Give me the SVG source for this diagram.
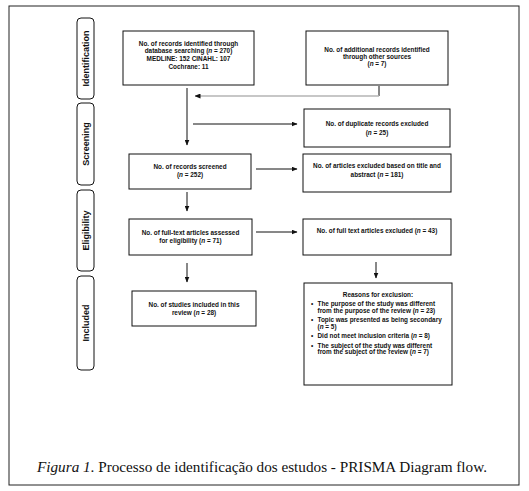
<svg xmlns="http://www.w3.org/2000/svg" width="529" height="491" viewBox="0 0 529 491">
<style>
.box{fill:#fff;stroke:#111;stroke-width:1}
.side{fill:#fff;stroke:#111;stroke-width:1}
.t{font-family:"Liberation Sans",Arial,sans-serif;font-size:6.4px;font-weight:bold;fill:#111;text-anchor:middle}
.tl{font-family:"Liberation Sans",Arial,sans-serif;font-size:6.4px;font-weight:bold;fill:#111}
.s{font-family:"Liberation Sans",Arial,sans-serif;font-size:9px;font-weight:bold;fill:#111;text-anchor:middle}
.c{stroke:#111;stroke-width:1;fill:none}
.g{stroke:#b4b4b4;stroke-width:1.5;fill:none}
.cap{font-family:"Liberation Serif","Times New Roman",serif;font-size:14.5px;fill:#111}
</style>
<defs>
<marker id="ah" markerWidth="6" markerHeight="5" refX="5.5" refY="2.5" orient="auto" markerUnits="userSpaceOnUse">
<path d="M0,0 L6,2.5 L0,5 Z" fill="#111"/>
</marker>
</defs>
<rect x="0" y="0" width="529" height="491" fill="#fff"/>
<rect x="9" y="6" width="510" height="479" fill="none" stroke="#222" stroke-width="1"/>

<g id="side-identification"><rect class="side" x="77" y="18" width="17" height="81" rx="4"/><text class="s" transform="translate(88.8,58.5) rotate(-90)">Identification</text></g>
<g id="side-screening"><rect class="side" x="77" y="103" width="17" height="82" rx="4"/><text class="s" transform="translate(88.8,144) rotate(-90)">Screening</text></g>
<g id="side-eligibility"><rect class="side" x="77" y="190" width="17" height="81" rx="4"/><text class="s" transform="translate(88.8,230.5) rotate(-90)">Eligibility</text></g>
<g id="side-included"><rect class="side" x="77" y="276" width="17" height="94" rx="4"/><text class="s" transform="translate(88.8,323) rotate(-90)">Included</text></g>

<g id="connectors">
<line class="c" x1="187" y1="88" x2="187" y2="145" marker-end="url(#ah)"/>
<line class="c" x1="379" y1="86" x2="379" y2="96"/>
<line class="g" x1="379" y1="96" x2="195" y2="96" marker-end="url(#ah)"/>
<line class="c" x1="193" y1="124" x2="297" y2="124" marker-end="url(#ah)"/>
<line class="c" x1="256" y1="169" x2="297" y2="169" marker-end="url(#ah)"/>
<line class="c" x1="187" y1="192" x2="187" y2="211" marker-end="url(#ah)"/>
<line class="c" x1="256" y1="232" x2="297" y2="232" marker-end="url(#ah)"/>
<line class="c" x1="187" y1="263" x2="187" y2="282" marker-end="url(#ah)"/>
<line class="c" x1="376" y1="262" x2="376" y2="278" marker-end="url(#ah)"/>
</g>

<g id="n-database">
<rect class="box" x="123" y="31" width="131" height="54"/>
<text class="t" x="188.5" y="45.5">No. of records identified through</text>
<text class="t" x="188.5" y="53.2">database searching (<tspan font-style="italic">n</tspan> = 270)</text>
<text class="t" x="188.5" y="61">MEDLINE: 152 CINAHL: 107</text>
<text class="t" x="188.5" y="68.8">Cochrane: 11</text>
</g>
<g id="n-additional">
<rect class="box" x="306" y="31" width="142" height="54"/>
<text class="t" x="377" y="52">No. of additional records identified</text>
<text class="t" x="377" y="59.2">through other sources</text>
<text class="t" x="377" y="66.4">(<tspan font-style="italic">n</tspan> = 7)</text>
</g>
<g id="n-duplicates">
<rect class="box" x="304" y="109" width="146" height="38"/>
<text class="t" x="377" y="126">No. of duplicate records excluded</text>
<text class="t" x="377" y="134.5">(<tspan font-style="italic">n</tspan> = 25)</text>
</g>
<g id="n-screened">
<rect class="box" x="129" y="154" width="122" height="35"/>
<text class="t" x="190" y="169">No. of records screened</text>
<text class="t" x="190" y="177.2">(<tspan font-style="italic">n</tspan> = 252)</text>
</g>
<g id="n-title-abstract">
<rect class="box" x="303" y="154" width="148" height="38"/>
<text class="t" x="377" y="168">No. of articles excluded based on title and</text>
<text class="t" x="377" y="176.5">abstract (<tspan font-style="italic">n</tspan> = 181)</text>
</g>
<g id="n-fulltext">
<rect class="box" x="129" y="219" width="123" height="36"/>
<text class="t" x="190.5" y="235">No. of full-text articles assessed</text>
<text class="t" x="190.5" y="243.2">for eligibility (<tspan font-style="italic">n</tspan> = 71)</text>
</g>
<g id="n-fulltext-excluded">
<rect class="box" x="303" y="219" width="148" height="36"/>
<text class="t" x="377" y="233">No. of full text articles excluded (<tspan font-style="italic">n</tspan> = 43)</text>
</g>
<g id="n-included">
<rect class="box" x="132" y="291" width="124" height="35"/>
<text class="t" x="194" y="306.5">No. of studies included in this</text>
<text class="t" x="194" y="314.7">review (<tspan font-style="italic">n</tspan> = 28)</text>
</g>
<g id="n-reasons">
<rect class="box" x="304" y="283" width="148" height="102"/>
<text class="t" x="378" y="297">Reasons for exclusion:</text>
<text class="tl" x="311" y="306">•</text>
<text class="tl" x="317.5" y="306">The purpose of the study was different</text>
<text class="tl" x="317.5" y="312.7">from the purpose of the review (<tspan font-style="italic">n</tspan> = 23)</text>
<text class="tl" x="311" y="322">•</text>
<text class="tl" x="317.5" y="322">Topic was presented as being secondary</text>
<text class="tl" x="317.5" y="328.7">(<tspan font-style="italic">n</tspan> = 5)</text>
<text class="tl" x="311" y="338">•</text>
<text class="tl" x="317.5" y="338">Did not meet inclusion criteria (<tspan font-style="italic">n</tspan> = 8)</text>
<text class="tl" x="311" y="347.5">•</text>
<text class="tl" x="317.5" y="347.5">The subject of the study was different</text>
<text class="tl" x="317.5" y="354.2">from the subject of the review (<tspan font-style="italic">n</tspan> = 7)</text>
</g>

<text class="cap" x="37" y="472" textLength="450" lengthAdjust="spacingAndGlyphs"><tspan font-style="italic">Figura 1</tspan>. Processo de identificação dos estudos - PRISMA Diagram flow.</text>
</svg>
